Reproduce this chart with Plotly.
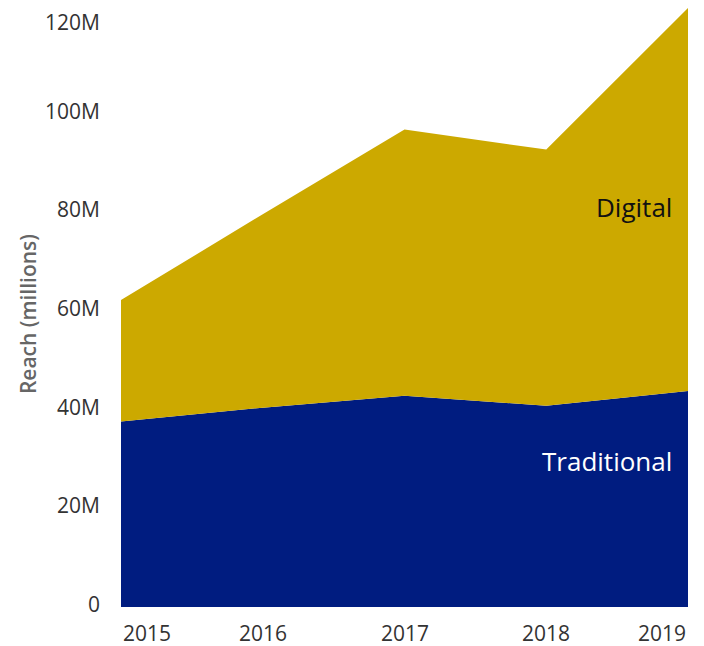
import plotly.graph_objects as go

years = [2015, 2016, 2017, 2018, 2019]
year_labels = ["2015", "2016", "2017", "2018", "2019"]
traditional = [37.6e6, 40.4e6, 42.8e6, 40.8e6, 43.8e6]
digital = [24.6e6, 39.2e6, 54.0e6, 51.9e6, 77.6e6]
y_ticks = [0, 20e6, 40e6, 60e6, 80e6, 100e6, 120e6]
y_tick_labels = ["0", "20M", "40M", "60M", "80M", "100M", "120M"]

GOLD = "#CCA900"
NAVY = "#001C80"
FONT = "Open Sans"
TICK_COLOR = "#333333"

fig = go.Figure()
fig.add_trace(go.Scatter(x=years, y=traditional, mode="lines", stackgroup="one",
                         line=dict(width=0), fillcolor=NAVY, name="Traditional",
                         hoverinfo="skip"))
fig.add_trace(go.Scatter(x=years, y=digital, mode="lines", stackgroup="one",
                         line=dict(width=0), fillcolor=GOLD, name="Digital",
                         hoverinfo="skip"))

# x tick labels (edge labels aligned inward)
anchors = ["left", "center", "center", "center", "right"]
for yr, lab, anc in zip(years, year_labels, anchors):
    fig.add_annotation(x=yr, y=0, xref="x", yref="paper", text=lab, showarrow=False,
                       xanchor=anc, yanchor="middle", yshift=-26,
                       font=dict(family=FONT, size=21, color=TICK_COLOR))

# y tick labels (top label kept inside the chart)
for v, lab in zip(y_ticks, y_tick_labels):
    shift = -7 if v == y_ticks[-1] else 3
    fig.add_annotation(x=0, y=v, xref="paper", yref="y", text=lab, showarrow=False,
                       xanchor="right", yanchor="middle", xshift=-19, yshift=shift,
                       font=dict(family=FONT, size=21, color=TICK_COLOR))

fig.add_annotation(x=0, y=0.489, xref="paper", yref="paper", text="Reach (millions)",
                   showarrow=False, textangle=-90, xanchor="center", yanchor="middle",
                   xshift=-93, font=dict(family=FONT, size=21, color="#666666", weight=600))

fig.add_annotation(x=2019, y=81e6, xref="x", yref="y", text="Digital", showarrow=False,
                   xanchor="right", yanchor="middle", xshift=-14,
                   font=dict(family=FONT, size=26, color="#111111"))
fig.add_annotation(x=2019, y=29.6e6, xref="x", yref="y", text="Traditional", showarrow=False,
                   xanchor="right", yanchor="middle", xshift=-14,
                   font=dict(family=FONT, size=26, color="#FFFFFF"))

fig.update_layout(
    width=696, height=638,
    margin=dict(l=113, r=16, t=0, b=39),
    paper_bgcolor="white", plot_bgcolor="white",
    showlegend=False,
    font=dict(family=FONT, size=21, color=TICK_COLOR),
    xaxis=dict(range=[2015, 2019], showticklabels=False, showgrid=False,
               zeroline=False, showline=False, ticks=""),
    yaxis=dict(range=[0, 121.4e6], showticklabels=False, showgrid=False,
               zeroline=False, showline=False, ticks=""),
)

fig.write_html("out.html")
